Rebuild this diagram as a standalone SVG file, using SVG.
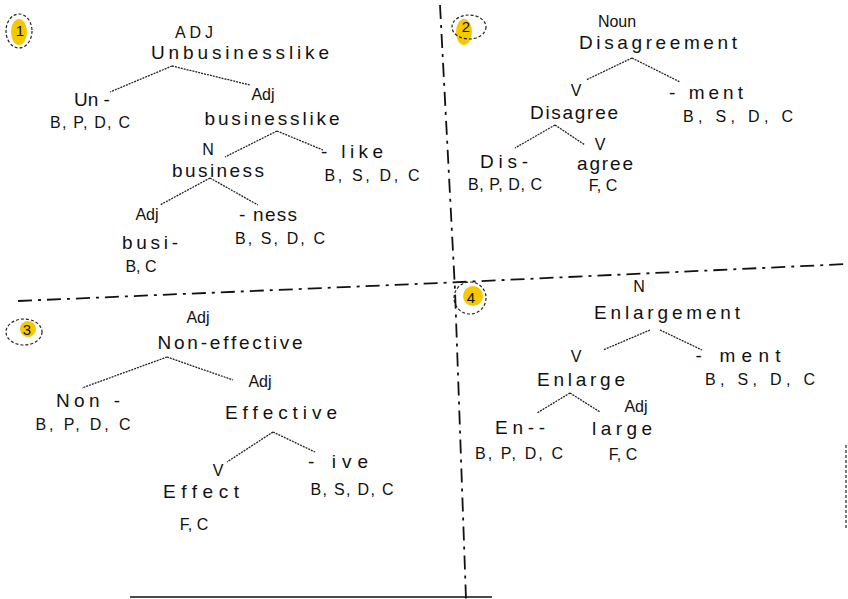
<svg xmlns="http://www.w3.org/2000/svg" width="848" height="599" viewBox="0 0 848 599">
<style>
text{font-family:"Liberation Sans","DejaVu Sans",sans-serif;fill:#111;font-size:19px;text-anchor:middle}
.s{font-size:15px}
.l{font-size:16px}
.c{stroke:#222;stroke-width:1.3;stroke-dasharray:2 1;fill:none}
.d{stroke:#111;stroke-width:1.8;stroke-dasharray:14 6 3 6;fill:none}
.o{stroke:#222;stroke-width:1.2;stroke-dasharray:3 2;fill:none}
.y{fill:#f5c800}
</style>
<rect width="848" height="599" fill="#fff"/>
<g id="dividers">
<path class="d" d="M440 5 L455 290 L466 599"/>
<path class="d" d="M18 301 L440 283 L848 264"/>
<path d="M130 597 L492 597" stroke="#111" stroke-width="1.5"/>
<path d="M846 445 L846 528" class="o"/>
</g>
<g id="markers">
<g id="m1"><ellipse class="y" cx="19" cy="32" rx="8" ry="13"/><ellipse class="o" cx="19" cy="31" rx="13" ry="17"/><text x="20" y="36" class="s">1</text></g>
<g id="m2"><ellipse class="y" cx="464" cy="32" rx="8" ry="13"/><ellipse class="o" cx="469" cy="27" rx="17" ry="12"/><text x="466" y="32" class="s">2</text></g>
<g id="m3"><circle class="y" cx="28" cy="329" r="8"/><ellipse class="o" cx="24" cy="332" rx="18" ry="13"/><text x="27" y="335" class="s">3</text></g>
<g id="m4"><circle class="y" cx="473" cy="296" r="10"/><circle class="o" cx="470" cy="298" r="16"/><text x="471" y="303" class="s">4</text></g>
</g>
<g id="connectors">
<path class="c" d="M172 66 L110 92 M172 66 L250 85"/>
<path class="c" d="M277 131 L225 157 M277 131 L323 150"/>
<path class="c" d="M210 178 L160 205 M210 178 L258 205"/>
<path class="c" d="M632 58 L586 80 M632 58 L680 82"/>
<path class="c" d="M555 125 L515 148 M555 125 L585 145"/>
<path class="c" d="M167 357 L82 388 M167 357 L233 380"/>
<path class="c" d="M273 432 L227 462 M273 432 L315 452"/>
<path class="c" d="M650 330 L603 350 M660 330 L702 350"/>
<path class="c" d="M570 393 L537 413 M570 393 L600 412"/>
</g>
<g id="n1">
<text x="194" y="38" class="l" textLength="38" lengthAdjust="spacing">ADJ</text>
<text x="240" y="59" textLength="178" lengthAdjust="spacing">Unbusinesslike</text>
</g>
<g id="n1a"><text x="92" y="106">Un -</text><text x="90" y="128" class="l" textLength="80" lengthAdjust="spacing">B, P, D, C</text></g>
<g id="n1b"><text x="263" y="100" class="l">Adj</text><text x="272" y="125" textLength="135" lengthAdjust="spacing">businesslike</text></g>
<g id="n1c"><text x="208" y="155" class="l">N</text><text x="218" y="177" textLength="92" lengthAdjust="spacing">business</text></g>
<g id="n1d"><text x="352" y="158" textLength="62" lengthAdjust="spacing">- like</text><text x="372" y="181" class="l" textLength="95" lengthAdjust="spacing">B, S, D, C</text></g>
<g id="n1e"><text x="147" y="220" class="l">Adj</text><text x="150" y="249" textLength="56" lengthAdjust="spacing">busi-</text><text x="141" y="272" class="l">B, C</text></g>
<g id="n1f"><text x="268" y="221" textLength="58" lengthAdjust="spacing">- ness</text><text x="280" y="244" class="l" textLength="90" lengthAdjust="spacing">B, S, D, C</text></g>
<g id="n2">
<text x="617" y="27" class="l">Noun</text>
<text x="658" y="49" textLength="158" lengthAdjust="spacing">Disagreement</text>
</g>
<g id="n2a"><text x="576" y="96" class="l">V</text><text x="574" y="119" textLength="88" lengthAdjust="spacing">Disagree</text></g>
<g id="n2b"><text x="706" y="99" textLength="74" lengthAdjust="spacing">- ment</text><text x="738" y="122" class="l" textLength="110" lengthAdjust="spacing">B, S, D, C</text></g>
<g id="n2c"><text x="504" y="168" textLength="48" lengthAdjust="spacing">Dis-</text><text x="505" y="190" class="l" textLength="74" lengthAdjust="spacing">B, P, D, C</text></g>
<g id="n2d"><text x="600" y="150" class="l">V</text><text x="605" y="170" textLength="56" lengthAdjust="spacing">agree</text><text x="603" y="191" class="l">F, C</text></g>
<g id="n3">
<text x="198" y="323" class="l">Adj</text>
<text x="230" y="349" textLength="145" lengthAdjust="spacing">Non-effective</text>
</g>
<g id="n3a"><text x="88" y="407" textLength="64" lengthAdjust="spacing">Non -</text><text x="83" y="430" class="l" textLength="95" lengthAdjust="spacing">B, P, D, C</text></g>
<g id="n3b"><text x="260" y="387" class="l">Adj</text><text x="281" y="419" textLength="112" lengthAdjust="spacing">Effective</text></g>
<g id="n3c"><text x="218" y="476" class="l">V</text><text x="201" y="498" textLength="76" lengthAdjust="spacing">Effect</text><text x="194" y="530" class="l">F, C</text></g>
<g id="n3d"><text x="338" y="468" textLength="60" lengthAdjust="spacing">- ive</text><text x="352" y="495" class="l" textLength="83" lengthAdjust="spacing">B, S, D, C</text></g>
<g id="n4">
<text x="639" y="292" class="l">N</text>
<text x="667" y="319" textLength="146" lengthAdjust="spacing">Enlargement</text>
</g>
<g id="n4a"><text x="576" y="362" class="l">V</text><text x="581" y="386" textLength="88" lengthAdjust="spacing">Enlarge</text></g>
<g id="n4b"><text x="738" y="362" textLength="85" lengthAdjust="spacing">- ment</text><text x="760" y="385" class="l" textLength="110" lengthAdjust="spacing">B, S, D, C</text></g>
<g id="n4c"><text x="520" y="434" textLength="50" lengthAdjust="spacing">En--</text><text x="519" y="459" class="l" textLength="88" lengthAdjust="spacing">B, P, D, C</text></g>
<g id="n4d"><text x="636" y="412" class="l">Adj</text><text x="622" y="435" textLength="60" lengthAdjust="spacing">large</text><text x="623" y="460" class="l">F, C</text></g>
</svg>
